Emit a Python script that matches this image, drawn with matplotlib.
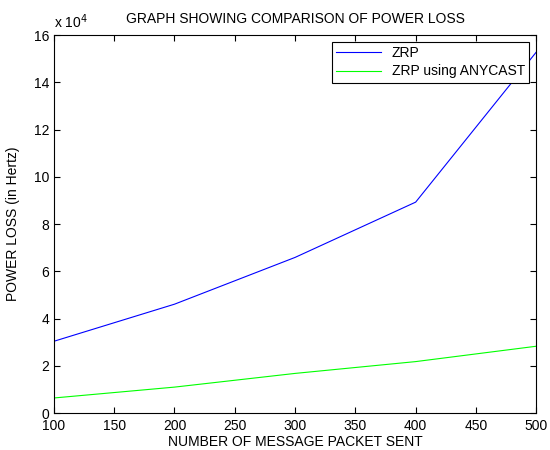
import matplotlib.pyplot as plt
from matplotlib.ticker import FuncFormatter

plt.rcParams['font.family'] = ['Liberation Sans', 'DejaVu Sans']

packets = [100, 200, 300, 400, 500]
zrp = [30400, 46100, 65900, 89300, 152800]
zrp_anycast = [6400, 11000, 16800, 21800, 28300]

fig = plt.figure(figsize=(5.5, 4.5), dpi=100)
ax = fig.add_axes([0.098, 0.082, 0.877, 0.84])

ax.plot(packets, zrp, color='#0000ff', lw=0.8, label='ZRP')
ax.plot(packets, zrp_anycast, color='#00ff00', lw=0.8, label='ZRP using ANYCAST')

ax.set_xlim(100, 500)
ax.set_ylim(0, 160000)
ax.set_xticks(range(100, 501, 50))
ax.set_yticks(range(0, 160001, 20000))
ax.yaxis.set_major_formatter(FuncFormatter(lambda v, p: '%d' % (v / 1e4)))
ax.tick_params(direction='in', top=True, right=True, labelsize=10, length=4, width=0.8)
ax.tick_params(axis='x', pad=4)
for s in ax.spines.values():
    s.set_linewidth(0.8)

ax.text(0.0, 1.012, r'x 10$^4$', transform=ax.transAxes, fontsize=10, ha='left', va='bottom')
ax.set_title('GRAPH SHOWING COMPARISON OF POWER LOSS', fontsize=10, pad=9)
ax.set_xlabel('NUMBER OF MESSAGE PACKET SENT', fontsize=10, labelpad=2)
ax.set_ylabel('POWER LOSS (in Hertz)', fontsize=10, labelpad=10)

leg = ax.legend(loc='upper right', fontsize=10, fancybox=False, framealpha=1,
                edgecolor='black', borderaxespad=0.5, handlelength=3.2,
                borderpad=0.3, labelspacing=0.3)
leg.get_frame().set_linewidth(0.8)

fig.savefig('out.png', dpi=100)
